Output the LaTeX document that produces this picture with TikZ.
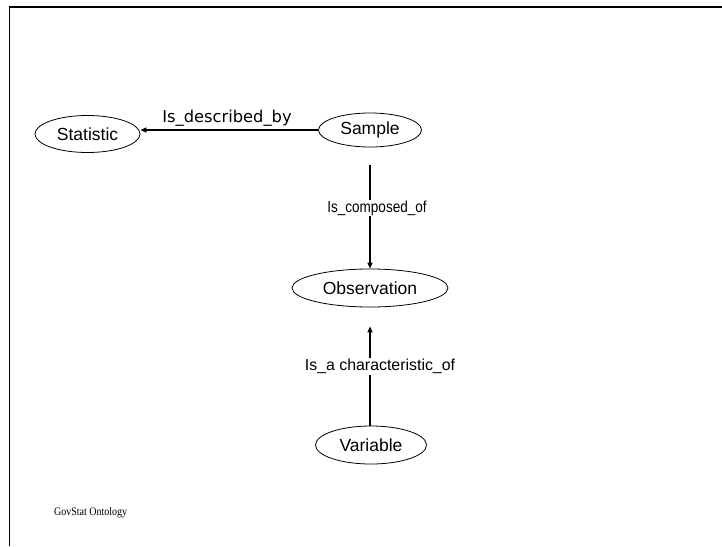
\documentclass[tikz,border=0pt]{standalone}
\usepackage{fontspec}
\setmainfont{Liberation Sans}
\newfontfamily\verdanalike{DejaVu Sans}
\newfontfamily\serifnote{Liberation Serif}
\usetikzlibrary{shapes.geometric,arrows.meta}

\tikzset{
  concept/.style={ellipse, draw, line width=0.8pt, inner sep=0pt,
    font=\fontsize{17.5}{20}\selectfont},
  relation/.style={line width=1.6pt, -{Triangle[length=6pt,width=5pt]}},
  rellabel/.style={fill=white, inner sep=1pt, font=\fontsize{15.9}{18}\selectfont},
}

\begin{document}
\begin{tikzpicture}[x=1pt,y=-1pt]
  \useasboundingbox (0,0) rectangle (722,546);

  % page frame (left and top edges only)
  \draw[line width=1.6pt] (9.5,546) -- (9.5,6.8) -- (722,6.8);

  % concepts
  \node[concept, minimum width=105pt, minimum height=37pt] (statistic) at (87.5,134) {Statistic};
  \node[concept, minimum width=103pt, minimum height=34pt] (sample) at (370,130) {Sample};
  \node[concept, minimum width=156pt, minimum height=38pt] (observation) at (370,288) {Observation};
  \node[concept, minimum width=111pt, minimum height=38pt] (variable) at (371,445) {Variable};

  % relations
  \draw[relation] (sample.west) -- (sample.west -| statistic.east);
  \node[font=\verdanalike\fontsize{16.3}{19}\selectfont, anchor=base] (descr) at (227,122) {Is\_described\_by};

  \draw[relation, shorten <=18pt] (sample.south) -- node[rellabel, xshift=7pt] (comp) {\scalebox{0.85}[1]{Is\_composed\_of}} (observation.north);
  \draw[relation, shorten >=19pt] (variable.north -| observation.south) -- node[rellabel, xshift=10pt] (charof) {Is\_a characteristic\_of} (observation.south);

  % footer
  \node[font=\serifnote\fontsize{11.5}{13}\selectfont, anchor=west] (footer) at (50.5,513) {\scalebox{0.87}[1]{GovStat Ontology}};
\end{tikzpicture}
\end{document}
